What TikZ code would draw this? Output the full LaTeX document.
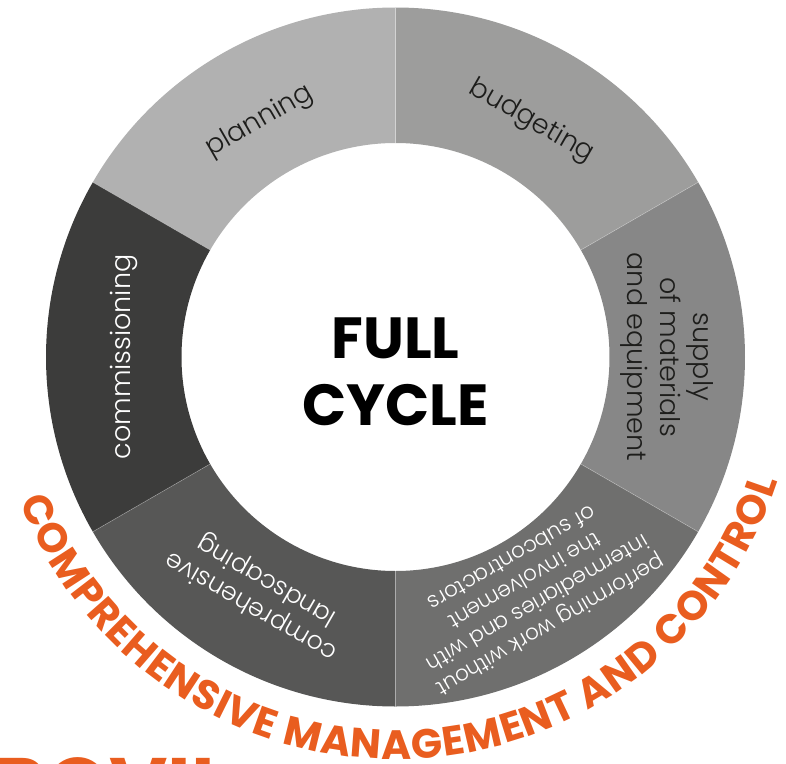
\documentclass[tikz,border=0pt]{standalone}
\usepackage{fontspec}
\setmainfont{Poppins}
\newfontfamily\lightfont{Poppins Light}
\usetikzlibrary{decorations.text}
\definecolor{segA}{HTML}{B1B1B1}
\definecolor{segB}{HTML}{9D9D9C}
\definecolor{segC}{HTML}{878787}
\definecolor{segD}{HTML}{6F6F6E}
\definecolor{segE}{HTML}{575756}
\definecolor{segF}{HTML}{3C3C3B}
\definecolor{ink}{HTML}{1D1D1B}
\definecolor{accent}{HTML}{E95D1F}
\tikzset{
  seglabel/.style={font=\lightfont\fontsize{27}{33}\selectfont, align=center, inner sep=0pt},
  darklabel/.style={seglabel, text=ink},
  lightlabel/.style={seglabel, text=white},
  titletext/.style={font=\fontsize{58}{67}\selectfont\bfseries, text=black, inner sep=0pt},
  divider/.style={draw=white, draw opacity=0.35, line width=0.6pt}
}
\begin{document}
\begin{tikzpicture}[x=1pt,y=1pt]
\useasboundingbox (-395.5,-406) rectangle (390.5,357);
\def\Ro{349.5}
\def\Ri{214}
\def\Rm{272}
% ring segments
\foreach \s/\c in {90/segA,30/segB,-30/segC,-90/segD,-150/segE,150/segF}{
  \pgfmathsetmacro{\e}{\s+60}
  \fill[\c] (\s:\Ro) arc[start angle=\s, end angle=\e, radius=\Ro]
    -- (\e:\Ri) arc[start angle=\e, end angle=\s, radius=\Ri] -- cycle;
}
\foreach \a in {90,30,-30,-90,-150,150}{
  \draw[divider] (\a:\Ri) -- (\a:\Ro);
}
% labels
\node[darklabel, rotate=30] (planning) at (120:\Rm) {planning};
\node[darklabel, rotate=-30] (budgeting) at (60:\Rm) {budgeting};
\node[darklabel, rotate=-90] (supply) at (0:\Rm) {supply\\of materials\\and equipment};
\node[lightlabel, rotate=-150, font=\lightfont\fontsize{21.5}{26}\selectfont] (performing) at (-60:\Rm) {performing work without\\intermediaries and with\\the involvement\\of subcontractors};
\node[lightlabel, rotate=150, font=\lightfont\fontsize{25}{30}\selectfont] (landscaping) at (240:\Rm) {comprehensive\\landscaping};
\node[lightlabel, rotate=90] (commissioning) at (180:\Rm) {commissioning};
% centre title
\node[titletext, anchor=base] (full) at (0,-1) {FULL};
\node[titletext, anchor=base] (cycle) at (0,-68) {CYCLE};
% curved caption
\path[decorate, decoration={text along path,
  text={|\fontsize{41}{41}\selectfont\bfseries\color{accent}|COMPREHENSIVE MANAGEMENT AND CONTROL},
  text align={fit to path}}]
  (201:402) arc[start angle=201, end angle=342, radius=402];
% cut-off word at the bottom edge
\begin{scope}
\clip (-395.5,-406) rectangle (390.5,357);
\node[font=\fontsize{80}{80}\selectfont\bfseries, text=accent, anchor=base west, inner sep=0pt] (cutword) at (-401.5,-457) {ROVII};
\end{scope}
\end{tikzpicture}
\end{document}
